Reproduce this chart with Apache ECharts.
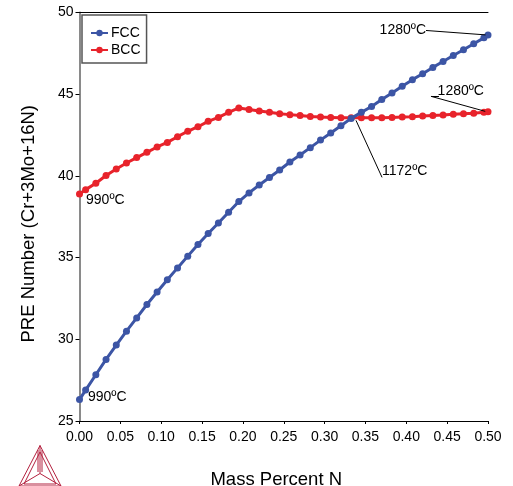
<!DOCTYPE html>
<html>
<head>
<meta charset="utf-8">
<script src="https://cdn.jsdelivr.net/npm/echarts@6/dist/echarts.min.js"></script>
<style>
  html, body { margin: 0; padding: 0; background: #fff; }
  #chart { width: 513px; height: 486px; }
</style>
</head>
<body>
<div id="chart"></div>
<script>
// Mass percent N at each calculated step
var massN = [0, 0.0075, 0.02, 0.0325, 0.045, 0.0575, 0.07, 0.0825, 0.095, 0.1075,
  0.12, 0.1325, 0.145, 0.1575, 0.17, 0.1825, 0.195, 0.2075, 0.22, 0.2325,
  0.245, 0.2575, 0.27, 0.2825, 0.295, 0.3075, 0.32, 0.3325, 0.345, 0.3575,
  0.37, 0.3825, 0.395, 0.4075, 0.42, 0.4325, 0.445, 0.4575, 0.47, 0.4825,
  0.495, 0.5];

// PRE number of FCC phase
var fccPRE = [26.31, 26.89, 27.83, 28.77, 29.65, 30.50, 31.31, 32.13, 32.89, 33.64,
  34.37, 35.09, 35.80, 36.47, 37.12, 37.78, 38.43, 38.96, 39.44, 39.90,
  40.36, 40.85, 41.28, 41.73, 42.19, 42.62, 43.07, 43.52, 43.89, 44.25,
  44.68, 45.07, 45.48, 45.89, 46.25, 46.64, 47.00, 47.37, 47.72, 48.09,
  48.45, 48.62];

// PRE number of BCC phase
var bccPRE = [38.89, 39.16, 39.55, 40.02, 40.42, 40.79, 41.12, 41.44, 41.77, 42.05,
  42.40, 42.73, 43.01, 43.34, 43.58, 43.89, 44.16, 44.07, 43.97, 43.89,
  43.81, 43.75, 43.69, 43.64, 43.60, 43.58, 43.56, 43.56, 43.56, 43.56,
  43.56, 43.58, 43.60, 43.62, 43.66, 43.69, 43.72, 43.77, 43.81, 43.84,
  43.89, 43.92];

// temperature notes: text, anchor [x, y], text alignment
var noteText = ['990ºC', '990ºC', '1280ºC', '1280ºC', '1172ºC'];
var notePos = [[0.008, 38.51], [0.0104, 26.47], [0.4241, 48.90], [0.4383, 45.17], [0.3703, 40.28]];
var noteAlign = ['left', 'left', 'right', 'left', 'left'];

// leader lines: [from, to, arrow at end]
var leaders = [
  [[0.4241, 48.90], [0.497, 48.63], true],
  [[0.4302, 44.87], [0.4966, 43.95], true],
  [[0.4302, 44.87], [0.4400, 44.87], false],
  [[0.3703, 39.91], [0.3384, 43.40], true]
];

var FONT = 'Liberation Sans, Arial, sans-serif';
var fccColor = '#3c55a5';
var bccColor = '#e8232b';

var chart = echarts.init(document.getElementById('chart'));

function pairs(xs, ys) {
  var out = [];
  for (var i = 0; i < xs.length; i++) out.push([xs[i], ys[i]]);
  return out;
}

var markData = leaders.map(function (l) {
  return [
    { coord: l[0], symbol: 'none' },
    { coord: l[1], symbol: l[2] ? 'arrow' : 'none' }
  ];
});

var option = {
  animation: false,
  textStyle: { fontFamily: FONT },
  grid: { left: 79.5, right: 25, top: 12.5, bottom: 65, outerBoundsMode: 'none', containLabel: false },
  legend: {
    left: 82, top: 15,
    orient: 'vertical',
    padding: [11, 6, 6, 8],
    itemGap: 3,
    itemWidth: 17,
    itemHeight: 8,
    borderColor: '#555',
    borderWidth: 1.5,
    textStyle: { fontSize: 14, color: '#000', fontFamily: FONT, padding: [0, 0, 0, -2] },
    data: ['FCC', 'BCC']
  },
  xAxis: [{
    type: 'value', min: 0, max: 0.5, interval: 0.05,
    name: 'Mass Percent N', nameLocation: 'middle', nameGap: 49,
    nameTextStyle: { fontSize: 18.5, color: '#000', fontFamily: FONT, padding: [0, 15, 0, 0] },
    axisLine: { show: true, lineStyle: { color: '#000', width: 1 } },
    axisTick: { show: true, length: 3, lineStyle: { color: '#000' } },
    axisLabel: { fontSize: 14, color: '#000', margin: 9, formatter: function (v) { return v.toFixed(2); } },
    splitLine: { show: false }
  }, {
    type: 'value', min: 0, max: 0.5, position: 'top',
    axisLine: { show: true, lineStyle: { color: '#000', width: 1 } },
    axisTick: { show: false }, axisLabel: { show: false }, splitLine: { show: false }
  }],
  yAxis: [{
    type: 'value', min: 25, max: 50, interval: 5,
    name: 'PRE Number (Cr+3Mo+16N)', nameLocation: 'middle', nameGap: 41,
    nameTextStyle: { fontSize: 18.5, color: '#000', fontFamily: FONT, padding: [0, 14, 0, 0] },
    axisLine: { show: true, lineStyle: { color: '#000', width: 1 } },
    axisTick: { show: true, length: 4, lineStyle: { color: '#000' } },
    axisLabel: { fontSize: 14, color: '#000', margin: 6 },
    splitLine: { show: false }
  }, {
    type: 'value', min: 25, max: 50, position: 'right',
    axisLine: { show: true, lineStyle: { color: '#8a8a8a', width: 2 } },
    axisTick: { show: false }, axisLabel: { show: false }, splitLine: { show: false }
  }],
  series: [{
    name: 'FCC', type: 'line',
    data: pairs(massN, fccPRE),
    symbol: 'circle', symbolSize: 7, showAllSymbol: true,
    lineStyle: { color: fccColor, width: 3 },
    itemStyle: { color: fccColor },
    z: 3,
    markLine: {
      silent: true, animation: false,
      symbolSize: [0, 7],
      label: { show: false },
      lineStyle: { color: '#000', width: 1, type: 'solid' },
      emphasis: { disabled: true },
      data: markData
    }
  }, {
    name: 'BCC', type: 'line',
    data: pairs(massN, bccPRE),
    symbol: 'circle', symbolSize: 7, showAllSymbol: true,
    lineStyle: { color: bccColor, width: 3 },
    itemStyle: { color: bccColor },
    z: 2
  }]
};

chart.setOption(option);

// temperature labels placed in data coordinates
var texts = noteText.map(function (t, i) {
  var p = chart.convertToPixel({ gridIndex: 0 }, notePos[i]);
  return {
    type: 'text', x: p[0], y: p[1], z: 10,
    style: { text: t, fontSize: 14, fontFamily: FONT, fill: '#000', align: noteAlign[i], verticalAlign: 'middle' }
  };
});

// Thermo-Calc style tetrahedron logo
var logoColor = '#b3213f';
var logo = [
  { type: 'polygon', shape: { points: [[40, 445.5], [19, 486], [61, 486]] } },
  { type: 'polygon', shape: { points: [[40, 452], [24, 484], [56, 484]] } },
  { type: 'polyline', shape: { points: [[40, 445.5], [40, 473.5], [19, 486]] } },
  { type: 'polyline', shape: { points: [[40, 473.5], [61, 486]] } },
  { type: 'polyline', shape: { points: [[38, 450], [38, 472]] } },
  { type: 'polyline', shape: { points: [[42, 450], [42, 472]] } }
].map(function (g) {
  g.style = { fill: null, stroke: logoColor, lineWidth: 1 };
  g.silent = true;
  return g;
});

chart.setOption({ graphic: texts.concat(logo) });
</script>
</body>
</html>
